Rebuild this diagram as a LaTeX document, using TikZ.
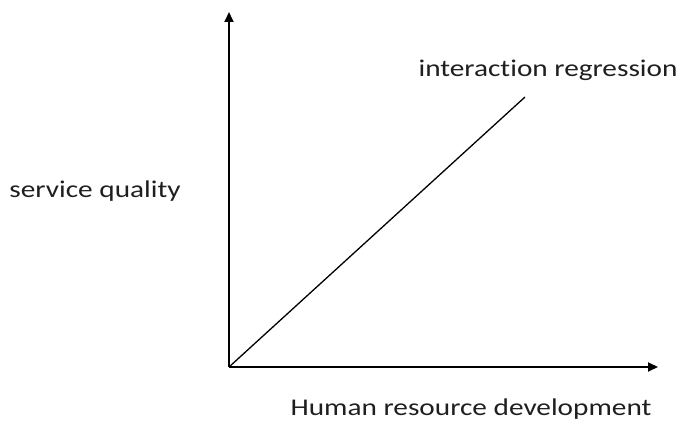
\documentclass[tikz,border=0pt]{standalone}
\usepackage{fontspec}
\setmainfont[Ligatures=NoCommon]{Carlito}
\usetikzlibrary{arrows.meta}
\begin{document}
\begin{tikzpicture}[x=1pt,y=1pt,
  axis/.style={line width=1.8pt,-{Triangle[length=10pt,width=9pt]}},
  lbl/.style={inner sep=0pt,anchor=base,xscale=1.22,font=\fontsize{24}{28}\selectfont,text=black!88}]
\useasboundingbox (0,0) rectangle (684,421);
\coordinate (O) at (229,54);
\coordinate (Y) at (229,409);
\coordinate (X) at (658,54);
\coordinate (E) at (525,324);
\draw[axis] (O) -- (Y);
\draw[axis] (O) -- (X);
\draw[line width=1.3pt] (O) -- (E);
\node[lbl] (ir) at (548,344) {interact\kern0pt ion regression};
\node[lbl] (sq) at (95,224) {service quality};
\node[lbl] (hr) at (471,6) {Human resource development};
\end{tikzpicture}
\end{document}
